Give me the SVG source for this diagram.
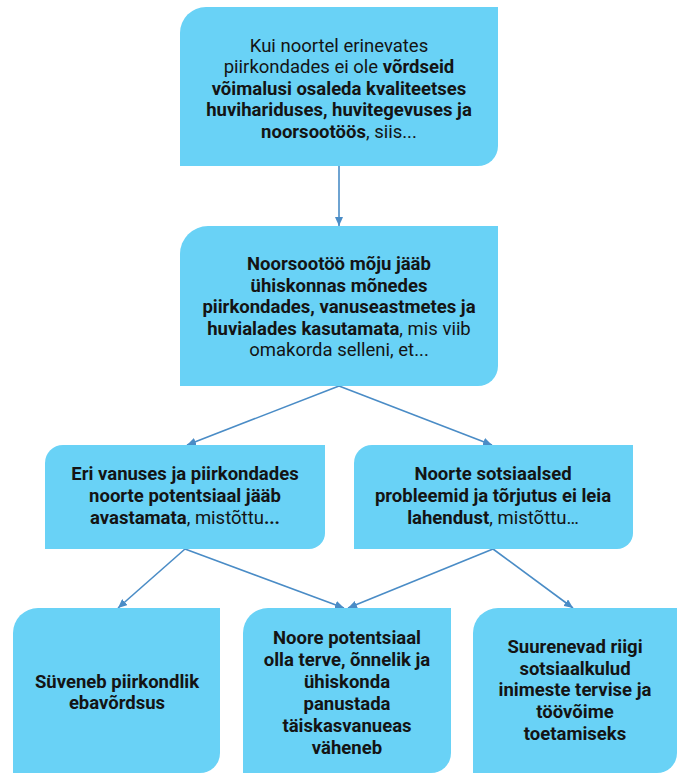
<svg xmlns="http://www.w3.org/2000/svg" width="679" height="774" viewBox="0 0 679 774">
<style>
.box{fill:#69d2f6;}
.t{font-family:Roboto,"Liberation Sans",sans-serif;font-size:18.5px;fill:#141414;text-anchor:middle;}
.b{font-weight:bold;}
.c{stroke:#4a8cc6;stroke-width:1.6;fill:none;marker-end:url(#ah);}
</style>
<defs>
<marker id="ah" markerWidth="10" markerHeight="8" refX="9" refY="4" orient="auto" markerUnits="userSpaceOnUse">
<path d="M0,0 L9,4 L0,8 Z" fill="#4a8cc6"/>
</marker>
</defs>
<rect width="679" height="774" fill="#ffffff"/>
<g id="connectors">
<line class="c" x1="339" y1="166" x2="339" y2="226"/>
<line class="c" x1="339" y1="386" x2="187" y2="445"/>
<line class="c" x1="339" y1="386" x2="492" y2="445"/>
<line class="c" x1="185" y1="549" x2="118" y2="608"/>
<line class="c" x1="185" y1="549" x2="344" y2="608"/>
<line class="c" x1="493" y1="549" x2="348" y2="608"/>
<line class="c" x1="493" y1="549" x2="573" y2="608"/>
</g>
<g id="n1">
<path class="box" d="M180,33 A26,26 0 0 1 206,7 H498 V146 A20,20 0 0 1 478,166 H180 Z"/>
<text class="t" x="339" y="51.5">Kui noortel erinevates</text>
<text class="t" x="339" y="73">piirkondades ei ole <tspan class="b">võrdseid</tspan></text>
<text class="t b" x="339" y="94.5">võimalusi osaleda kvaliteetses</text>
<text class="t b" x="339" y="116">huvihariduses, huvitegevuses ja</text>
<text class="t" x="339" y="137.5"><tspan class="b">noorsootöös</tspan>, siis...</text>
</g>
<g id="n2">
<path class="box" d="M180,254 A28,28 0 0 1 208,226 H498 V366 A20,20 0 0 1 478,386 H180 Z"/>
<text class="t b" x="339" y="270">Noorsootöö mõju jääb</text>
<text class="t b" x="339" y="291.5">ühiskonnas mõnedes</text>
<text class="t b" x="339" y="313">piirkondades, vanuseastmetes ja</text>
<text class="t" x="339" y="334.5"><tspan class="b">huvialades kasutamata</tspan>, mis viib</text>
<text class="t" x="339" y="356">omakorda selleni, et...</text>
</g>
<g id="n3">
<path class="box" d="M45,463 A18,18 0 0 1 63,445 H325 V533 A16,16 0 0 1 309,549 H45 Z"/>
<text class="t b" x="185" y="480">Eri vanuses ja piirkondades</text>
<text class="t b" x="185" y="502">noorte potentsiaal jääb</text>
<text class="t" x="185" y="524"><tspan class="b">avastamata</tspan>, mistõttu<tspan class="b">...</tspan></text>
</g>
<g id="n4">
<path class="box" d="M354,463 A18,18 0 0 1 372,445 H633 V533 A16,16 0 0 1 617,549 H354 Z"/>
<text class="t b" x="493" y="480">Noorte sotsiaalsed</text>
<text class="t b" x="493" y="502">probleemid ja tõrjutus ei leia</text>
<text class="t" x="493" y="524"><tspan class="b">lahendust</tspan>, mistõttu…</text>
</g>
<g id="n5">
<path class="box" d="M13,633 A25,25 0 0 1 38,608 H220 V753 A20,20 0 0 1 200,773 H13 Z"/>
<text class="t b" x="117" y="688">Süveneb piirkondlik</text>
<text class="t b" x="117" y="709">ebavõrdsus</text>
</g>
<g id="n6">
<path class="box" d="M243,633 A25,25 0 0 1 268,608 H451 V753 A20,20 0 0 1 431,773 H243 Z"/>
<text class="t b" x="347" y="644">Noore potentsiaal</text>
<text class="t b" x="347" y="666">olla terve, õnnelik ja</text>
<text class="t b" x="347" y="688">ühiskonda</text>
<text class="t b" x="347" y="710">panustada</text>
<text class="t b" x="347" y="732">täiskasvanueas</text>
<text class="t b" x="347" y="754">väheneb</text>
</g>
<g id="n7">
<path class="box" d="M473,633 A25,25 0 0 1 498,608 H677 V753 A20,20 0 0 1 657,773 H473 Z"/>
<text class="t b" x="575" y="653">Suurenevad riigi</text>
<text class="t b" x="575" y="675">sotsiaalkulud</text>
<text class="t b" x="575" y="696">inimeste tervise ja</text>
<text class="t b" x="575" y="718">töövõime</text>
<text class="t b" x="575" y="740">toetamiseks</text>
</g>
</svg>
